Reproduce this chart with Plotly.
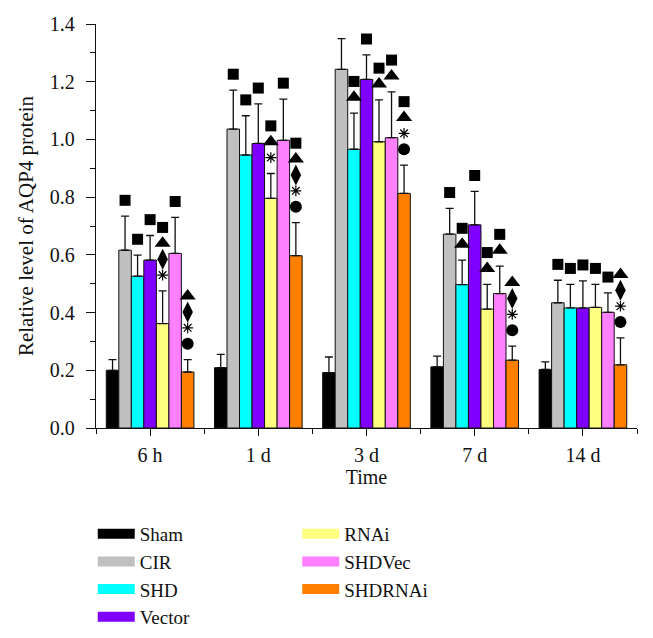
import plotly.graph_objects as go

categories = ["6 h", "1 d", "3 d", "7 d", "14 d"]
series_names = ["Sham", "CIR", "SHD", "Vector", "RNAi", "SHDVec", "SHDRNAi"]
colors = ["#000000", "#c0c0c0", "#00ffff", "#8000ff", "#ffff80", "#ff80ff", "#ff8000"]

sham = [0.200, 0.209, 0.192, 0.212, 0.203]
sham_err = [0.037, 0.046, 0.054, 0.037, 0.026]
cir = [0.616, 1.036, 1.243, 0.672, 0.434]
cir_err = [0.118, 0.135, 0.106, 0.089, 0.078]
shd = [0.526, 0.946, 0.966, 0.497, 0.416]
shd_err = [0.073, 0.136, 0.125, 0.085, 0.082]
vector = [0.582, 0.986, 1.208, 0.704, 0.416]
vector_err = [0.085, 0.137, 0.085, 0.116, 0.094]
rnai = [0.362, 0.796, 0.992, 0.412, 0.418]
rnai_err = [0.113, 0.086, 0.145, 0.086, 0.080]
shdvec = [0.605, 0.997, 1.006, 0.466, 0.401]
shdvec_err = [0.125, 0.143, 0.159, 0.095, 0.067]
shdrnai = [0.194, 0.597, 0.813, 0.235, 0.219]
shdrnai_err = [0.043, 0.115, 0.098, 0.049, 0.093]

# significance marks per time point (Sham, CIR, SHD, Vector, RNAi, SHDVec, SHDRNAi), listed top to bottom
sig_6h = ["", "■", "■", "■", "■▲◆*", "■", "▲◆*●"]
sig_1d = ["", "■", "■", "■", "■▲*", "■", "■▲◆*●"]
sig_3d = ["", "■", "■▲", "■", "■▲", "■▲", "■▲*●"]
sig_7d = ["", "■", "■▲", "■", "■▲", "■▲", "▲◆*●"]
sig_14d = ["", "■", "■", "■", "■", "■", "▲◆*●"]

values = [sham, cir, shd, vector, rnai, shdvec, shdrnai]
errors = [sham_err, cir_err, shd_err, vector_err, rnai_err, shdvec_err, shdrnai_err]
sigs = [sig_6h, sig_1d, sig_3d, sig_7d, sig_14d]

FONT = "Liberation Serif"
INK = "#111111"
bargap = 0.19
n = len(series_names)
xs = list(range(len(categories)))

fig = go.Figure()
for i, name in enumerate(series_names):
    fig.add_trace(go.Bar(
        x=xs, y=values[i], name=name, showlegend=False,
        marker=dict(color=colors[i], line=dict(color=INK, width=1)),
        error_y=dict(type="data", array=errors[i], arrayminus=[0] * len(xs), symmetric=False,
                     color=INK, thickness=1.3, width=4),
    ))

# legend entries (wide swatches)
for i, name in enumerate(series_names):
    fig.add_trace(go.Scatter(
        x=[None], y=[None], mode="lines", name=name,
        line=dict(color=colors[i], width=11),
        legend="legend" if i < 4 else "legend2",
    ))

sym_map = {
    "■": dict(symbol="square", size=11),
    "▲": dict(symbol="triangle-up", size=14),
    "◆": dict(symbol="diamond-tall", size=15),
    "*": dict(symbol="asterisk-open", size=9),
    "●": dict(symbol="circle", size=12),
}
pts = {k: ([], []) for k in sym_map}
d0, step = 0.055, 0.055
bw = (1 - bargap) / n
for g, sig_group in enumerate(sigs):
    for i, s in enumerate(sig_group):
        top = values[i][g] + errors[i][g]
        xc = g + (i - (n - 1) / 2) * bw
        for k, ch in enumerate(reversed(s)):
            pts[ch][0].append(xc)
            pts[ch][1].append(top + d0 + k * step)

for ch, (px, py) in pts.items():
    m = sym_map[ch]
    line = dict(color="#777777", width=1.2) if ch == "*" else dict(width=0)
    fig.add_trace(go.Scatter(
        x=px, y=py, mode="markers", showlegend=False, hoverinfo="skip",
        marker=dict(symbol=m["symbol"], size=m["size"], color="#000000", line=line),
        cliponaxis=False,
    ))

legend_common = dict(yanchor="top", xanchor="left", orientation="v",
                     font=dict(family=FONT, size=19, color=INK), tracegroupgap=0,
                     itemwidth=37, bgcolor="rgba(0,0,0,0)")
fig.update_layout(
    width=645, height=630,
    margin=dict(l=88, r=16, t=16, b=210, autoexpand=False),
    paper_bgcolor="white", plot_bgcolor="white",
    barmode="group", bargap=bargap, bargroupgap=0,
    font=dict(family=FONT, size=20, color=INK),
    showlegend=True,
    legend=dict(x=-0.006, y=-0.215, **legend_common),
    legend2=dict(x=0.372, y=-0.215, **legend_common),
)
fig.update_xaxes(
    range=[-0.5, 4.5], tickvals=xs, ticktext=categories,
    showline=True, linecolor=INK, linewidth=1.3, mirror=False,
    ticks="outside", ticklen=7, tickwidth=1.3, tickcolor=INK,
    minor=dict(tickvals=[-0.5, 0.5, 1.5, 2.5, 3.5, 4.5], ticks="outside", ticklen=5, tickwidth=1.3, tickcolor=INK),
    showgrid=False, zeroline=False,
    ticklabelstandoff=2,
    title=dict(text="Time", font=dict(family=FONT, size=20), standoff=2),
    tickfont=dict(family=FONT, size=20),
)
fig.update_yaxes(
    range=[0, 1.4], dtick=0.2, tickformat=".1f",
    showline=True, linecolor=INK, linewidth=1.3,
    ticks="outside", ticklen=9, tickwidth=1.3, tickcolor=INK,
    minor=dict(dtick=0.1, ticks="outside", ticklen=5, tickwidth=1.3, tickcolor=INK),
    showgrid=False, zeroline=False,
    ticklabelstandoff=7,
    title=dict(text="Relative level of AQP4 protein", font=dict(family=FONT, size=21), standoff=10),
    tickfont=dict(family=FONT, size=20),
)

fig.write_html("out.html")
